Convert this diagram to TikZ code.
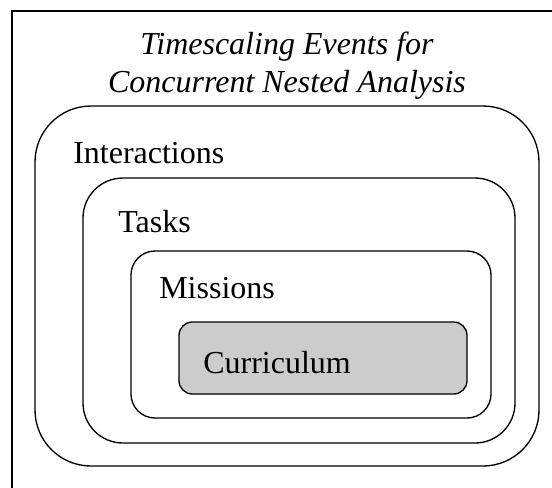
\documentclass[tikz,border=0pt]{standalone}
\usepackage{fontspec}
\setmainfont{Liberation Serif}
\begin{document}
\begin{tikzpicture}[x=0.75pt,y=-0.75pt,
  frameline/.style={line width=1.9pt,line cap=rect},
  nestbox/.style={draw,line width=1pt,inner sep=0pt,outer sep=0pt},
  lbl/.style={anchor=base west,inner sep=0pt,font=\fontsize{24}{28}\selectfont},
  ttl/.style={anchor=base,inner sep=0pt,font=\fontsize{24}{28}\selectfont\itshape}]
\useasboundingbox (0,0) rectangle (552,487);
\coordinate (fa) at (12,487);
\coordinate (fb) at (12,11);
\coordinate (fc) at (552,11);
\draw[frameline] (fa) -- (fb) -- (fc);
\node[ttl] (t1) at (287,54) {Timescaling Events for};
\node[ttl] (t2) at (287,92) {Concurrent Nested Analysis};
\node[nestbox,rounded corners=42pt,minimum width=378pt,minimum height=270pt] (inter) at (287,286) {};
\node[nestbox,rounded corners=30pt,minimum width=324pt,minimum height=198.75pt] (tasks) at (299,310.5) {};
\node[nestbox,rounded corners=18pt,minimum width=270pt,minimum height=125.25pt] (miss) at (311,334.5) {};
\node[nestbox,rounded corners=10pt,fill=black!20,minimum width=216pt,minimum height=54pt] (curr) at (323,358) {};
\node[lbl] (linter) at (73,163) {Interactions};
\node[lbl] (ltasks) at (118,232) {Tasks};
\node[lbl] (lmiss) at (159,298) {Missions};
\node[lbl] (lcurr) at (203,373) {Curriculum};
\end{tikzpicture}
\end{document}
